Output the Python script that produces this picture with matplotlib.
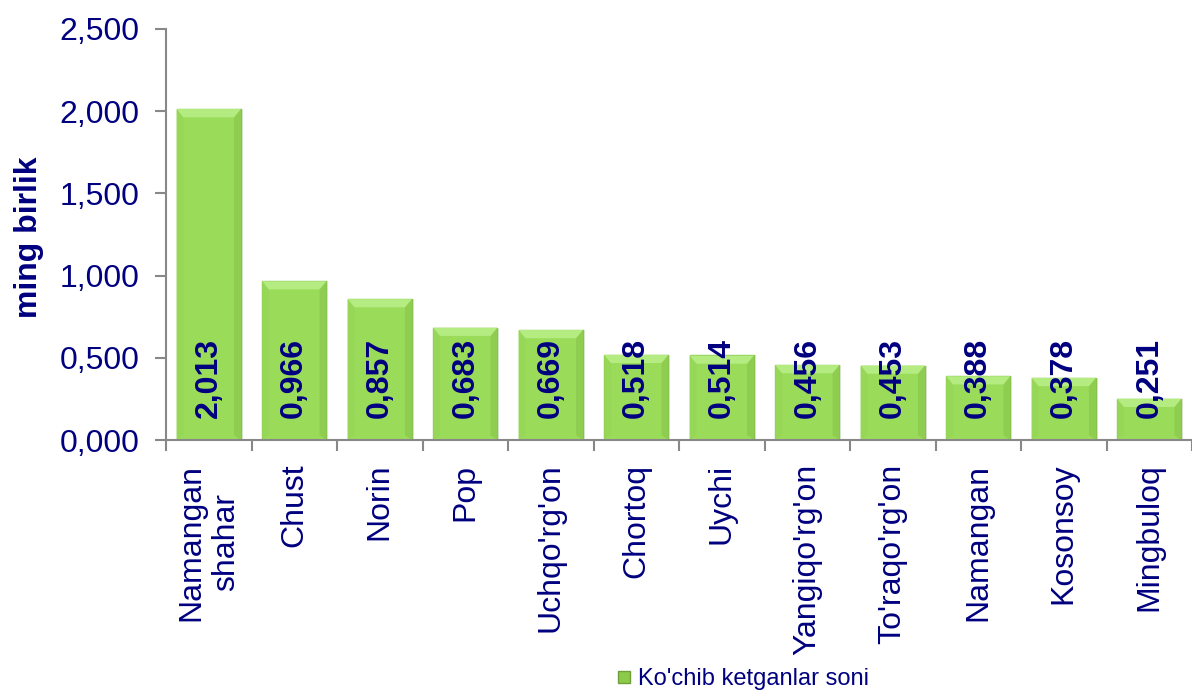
import matplotlib
matplotlib.use("Agg")
import matplotlib.pyplot as plt
import numpy as np
from matplotlib.ticker import FuncFormatter, FixedLocator
from matplotlib.lines import Line2D
from matplotlib.patches import Polygon

categories = ["Namangan\nshahar", "Chust", "Norin", "Pop", "Uchqo'rg'on", "Chortoq",
              "Uychi", "Yangiqo'rg'on", "To'raqo'rg'on", "Namangan", "Kosonsoy", "Mingbuloq"]
values = [2.013, 0.966, 0.857, 0.683, 0.669, 0.518, 0.514, 0.456, 0.453, 0.388, 0.378, 0.251]
series_name = "Ko'chib ketganlar soni"
y_label = "ming birlik"

navy = "#000080"
plt.rcParams['font.family'] = ['Liberation Sans', 'DejaVu Sans']

fig = plt.figure(figsize=(11.92, 6.93), dpi=100)
ax = fig.add_axes([166/1192, 1-440/693, 1-166/1192, (440-29)/693])

x = np.arange(len(categories))
# soft shadow behind bars
ax.bar(x + 0.025, values, width=0.75, color="#000000", alpha=0.08, linewidth=0, zorder=2)
bars = ax.bar(x, values, width=0.75, color="#9BDB5A", edgecolor="#86C24C", linewidth=1.0, zorder=3)

# bevel decoration derived from each bar's geometry
bh = 0.05   # bevel height (data units)
bw = 0.08   # bevel width (data units)
for b in bars:
    x0, w, h = b.get_x(), b.get_width(), b.get_height()
    x1 = x0 + w
    top = Polygon([[x0, h], [x1, h], [x1 - bw, h - bh], [x0 + bw, h - bh]], closed=True,
                  facecolor="#B5EC82", edgecolor="none", zorder=4)
    left = Polygon([[x0, 0], [x0, h], [x0 + bw, h - bh], [x0 + bw, 0.03]], closed=True,
                   facecolor="#97D757", edgecolor="none", zorder=4)
    right = Polygon([[x1, 0], [x1, h], [x1 - bw, h - bh], [x1 - bw, 0.03]], closed=True,
                    facecolor="#8FCD50", edgecolor="none", zorder=4)
    for p in (left, right, top):
        ax.add_patch(p)

fmt = lambda v: f"{v:.3f}".replace(".", ",")
for xi, v in zip(x, values):
    ax.text(xi, 0.134, fmt(v), rotation=90, ha="center", va="bottom", fontsize=23,
            fontweight="bold", color=navy, zorder=5)

ax.set_xlim(-0.5, len(categories) - 0.5)
ax.set_ylim(0, 2.5)
ax.set_yticks(np.arange(0, 2.51, 0.5))
ax.yaxis.set_major_formatter(FuncFormatter(lambda v, p: fmt(v)))
ax.tick_params(axis="y", labelsize=23, labelcolor=navy, color="#888888", length=8, width=1.5, pad=11)

ax.set_xticks(x)
ax.set_xticklabels(categories, rotation=90, fontsize=23, color=navy, ha="center", va="top",
                   multialignment="center")
ax.tick_params(axis="x", length=0, pad=17)
ax.xaxis.set_minor_locator(FixedLocator(np.arange(-0.5, len(categories), 1.0)))
ax.tick_params(axis="x", which="minor", length=8, width=1.5, color="#888888")

for s in ["top", "right"]:
    ax.spines[s].set_visible(False)
for s in ["left", "bottom"]:
    ax.spines[s].set_color("#888888")
    ax.spines[s].set_linewidth(1.5)
    ax.spines[s].set_zorder(6)

fig.text(29/1192, 1 - 237/693, y_label, rotation=90, ha="center", va="center",
         fontsize=23, fontweight="bold", color=navy)

handle = Line2D([], [], marker="s", linestyle="none", markersize=9,
                markerfacecolor="#8CCB4A", markeredgecolor="#6E9F3A")
fig.legend([handle], [series_name], loc="center", bbox_to_anchor=(742/1192, 1 - 679/693),
           frameon=False, fontsize=17, labelcolor=navy, handletextpad=0.2, handlelength=0.8)

fig.savefig("out.png", dpi=100)
